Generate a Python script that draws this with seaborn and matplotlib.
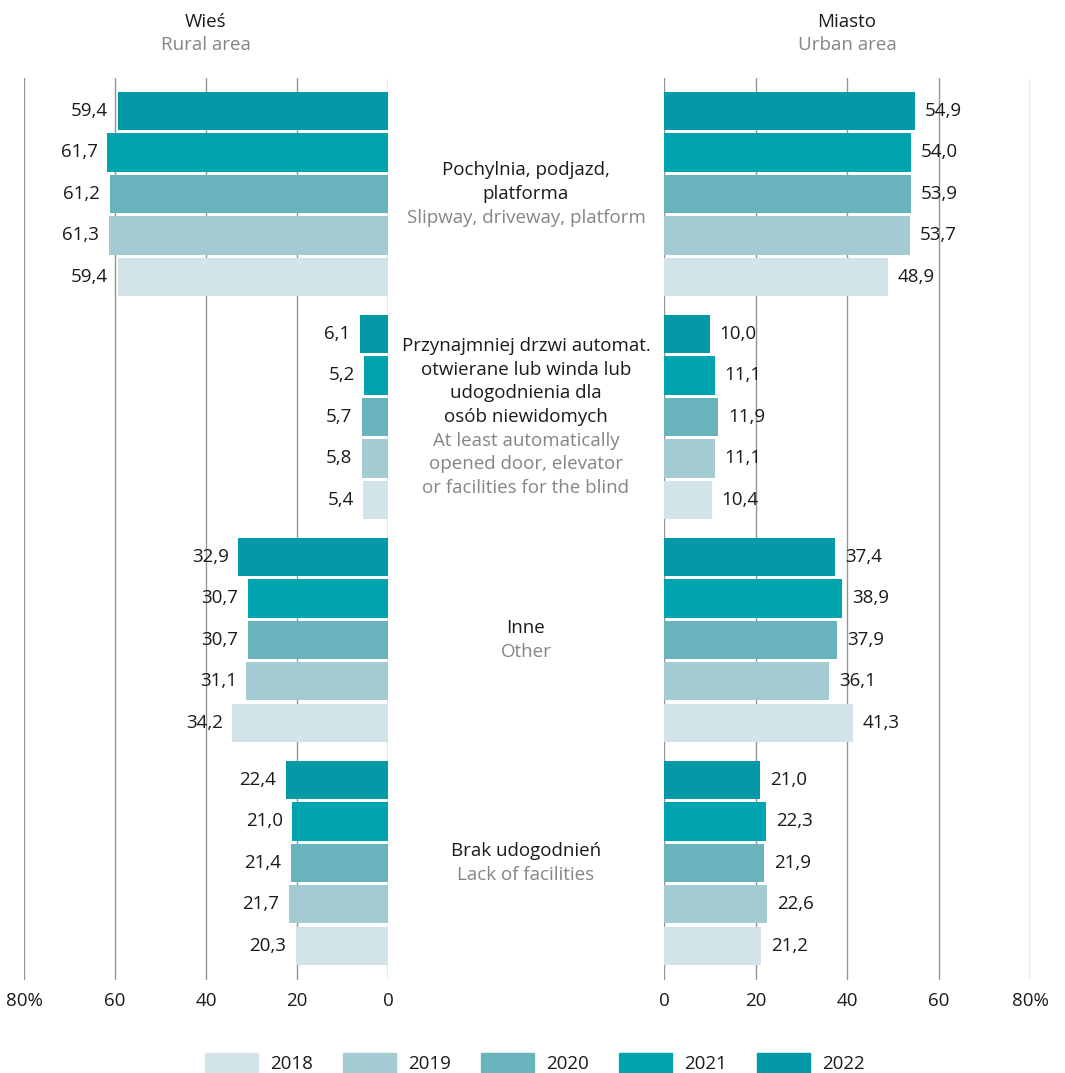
import matplotlib.pyplot as plt
import matplotlib.patches as mpatches
import matplotlib.transforms as mtransforms
import pandas as pd
import seaborn as sns

# Data
categories = ['slipway', 'doors', 'other', 'lack']
years = ['2022', '2021', '2020', '2019', '2018']
rural = {
    'slipway': [59.4, 61.7, 61.2, 61.3, 59.4],
    'doors': [6.1, 5.2, 5.7, 5.8, 5.4],
    'other': [32.9, 30.7, 30.7, 31.1, 34.2],
    'lack': [22.4, 21.0, 21.4, 21.7, 20.3],
}
urban = {
    'slipway': [54.9, 54.0, 53.9, 53.7, 48.9],
    'doors': [10.0, 11.1, 11.9, 11.1, 10.4],
    'other': [37.4, 38.9, 37.9, 36.1, 41.3],
    'lack': [21.0, 22.3, 21.9, 22.6, 21.2],
}
labels_pl = [
    ['Pochylnia, podjazd,', 'platforma'],
    ['Przynajmniej drzwi automat.', 'otwierane lub winda lub', 'udogodnienia dla', 'osób niewidomych'],
    ['Inne'],
    ['Brak udogodnień'],
]
labels_en = [
    ['Slipway, driveway, platform'],
    ['At least automatically', 'opened door, elevator', 'or facilities for the blind'],
    ['Other'],
    ['Lack of facilities'],
]
year_colors = {
    '2018': '#d2e4e8',
    '2019': '#a3cbd2',
    '2020': '#68b3bc',
    '2021': '#00a4ae',
    '2022': '#0399a7',
}
x_ticks = [0, 20, 40, 60, 80]
x_ticklabels = ['0', '20', '40', '60', '80%']


def to_frame(d):
    rows = []
    for c in categories:
        for y, v in zip(years, d[c]):
            rows.append({'cat': c, 'year': y, 'value': v})
    return pd.DataFrame(rows)


df_rural = to_frame(rural)
df_urban = to_frame(urban)

sns.set_style('white')
plt.rcParams['font.family'] = ['Open Sans', 'DejaVu Sans']
BLACK = '#1a1a1a'
GREY = '#858585'
FS = 13.5

fig = plt.figure(figsize=(10.65, 10.73), dpi=100)
W, H = 1065, 1073
top_px, bot_px = 78, 980
ax_l = fig.add_axes([24 / W, 1 - bot_px / H, 364 / W, (bot_px - top_px) / H])
ax_r = fig.add_axes([664 / W, 1 - bot_px / H, 366 / W, (bot_px - top_px) / H])

for ax, df, side in [(ax_l, df_rural, 'left'), (ax_r, df_urban, 'right')]:
    sns.barplot(data=df, y='cat', x='value', hue='year', hue_order=years,
                palette=year_colors, saturation=1, orient='h', width=0.93, gap=0.08,
                order=categories, ax=ax, legend=False, linewidth=0, zorder=2)
    ax.set_ylim(3.525, -0.52)
    ax.set_xlim(0, 80)
    if side == 'left':
        ax.invert_xaxis()
    ax.set_xticks(x_ticks)
    ax.set_xticklabels(x_ticklabels, fontsize=FS, color=BLACK)
    ax.tick_params(axis='x', length=0, pad=9)
    ax.set_yticks([])
    ax.set_xlabel('')
    ax.set_ylabel('')
    for s in ax.spines.values():
        s.set_visible(False)
    ax.grid(axis='x', color='#959595', linewidth=1.0, zorder=0)
    ax.set_axisbelow(True)
    for cont in ax.containers:
        ax.bar_label(cont, labels=[f'{v:.1f}'.replace('.', ',') for v in cont.datavalues],
                     padding=7, fontsize=FS, color=BLACK)

# headers
fig.text(206 / W, 1 - 22 / H, 'Wieś', ha='center', va='center', fontsize=FS, color=BLACK)
fig.text(206 / W, 1 - 45 / H, 'Rural area', ha='center', va='center', fontsize=FS, color=GREY)
fig.text(847 / W, 1 - 22 / H, 'Miasto', ha='center', va='center', fontsize=FS, color=BLACK)
fig.text(847 / W, 1 - 45 / H, 'Urban area', ha='center', va='center', fontsize=FS, color=GREY)

# category labels in the middle
trans = mtransforms.blended_transform_factory(fig.transFigure, ax_l.transData)
pitch = 23.7 / 223
for i in range(len(categories)):
    lines = [(t, BLACK) for t in labels_pl[i]] + [(t, GREY) for t in labels_en[i]]
    n = len(lines)
    for j, (t, col) in enumerate(lines):
        y = i + (j - (n - 1) / 2) * pitch
        fig.text(526 / W, y, t, transform=trans, ha='center', va='center',
                 fontsize=FS, color=col)

# legend
handles = [mpatches.Patch(color=year_colors[y], label=y) for y in reversed(years)]
fig.legend(handles=handles, loc='lower center', bbox_to_anchor=(535 / W, 0.0), ncol=5,
           frameon=False, fontsize=FS, handlelength=2.83, handleheight=1.28,
           columnspacing=1.6, handletextpad=0.64, borderpad=0, borderaxespad=0,
           labelcolor=BLACK)

fig.savefig('out.png', dpi=100)
